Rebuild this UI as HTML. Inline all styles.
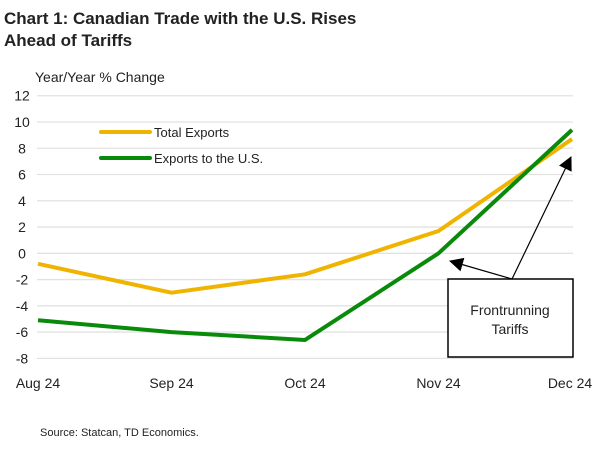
<!DOCTYPE html>
<html><head><meta charset="utf-8"><style>
body{margin:0;background:#fff;font-family:"Liberation Sans",sans-serif;}
</style></head><body>
<svg width="600" height="448" xmlns="http://www.w3.org/2000/svg">
<text x="4" y="24" font-size="17" font-weight="bold" fill="#222">Chart 1: Canadian Trade with the U.S. Rises</text>
<text x="4" y="46" font-size="17" font-weight="bold" fill="#222">Ahead of Tariffs</text>
<text x="35" y="82" font-size="14" fill="#222">Year/Year % Change</text>
<g id="grid"></g><g id="series"></g>
<g>
<line x1="101" y1="132" x2="150" y2="132" stroke="#f0b400" stroke-width="4" stroke-linecap="round"/>
<text x="154" y="137" font-size="13" fill="#222">Total Exports</text>
<line x1="101" y1="158" x2="150" y2="158" stroke="#0a8a0a" stroke-width="4" stroke-linecap="round"/>
<text x="154" y="163" font-size="13" fill="#222">Exports to the U.S.</text>
</g>
<defs><marker id="ah" markerWidth="14" markerHeight="14" refX="13" refY="7" orient="auto" markerUnits="userSpaceOnUse"><path d="M0,0 L14,7 L0,14 z" fill="#000"/></marker></defs>
<line x1="512" y1="279" x2="450" y2="261" stroke="#000" stroke-width="1.2" marker-end="url(#ah)"/>
<line x1="512" y1="279" x2="571" y2="157" stroke="#000" stroke-width="1.2" marker-end="url(#ah)"/>
<rect x="448" y="279" width="125" height="78" fill="#fff" stroke="#000" stroke-width="1.5"/>
<text x="510" y="315" font-size="14" text-anchor="middle" fill="#222">Frontrunning</text>
<text x="510" y="334" font-size="14" text-anchor="middle" fill="#222">Tariffs</text>
<text x="40" y="436" font-size="11" fill="#222">Source: Statcan, TD Economics.</text>
</svg>
<script>
const categories=["Aug 24","Sep 24","Oct 24","Nov 24","Dec 24"];
const totalExports=[-0.8,-3.0,-1.6,1.7,8.7];
const exportsUS=[-5.1,-6.0,-6.6,0.0,9.4];
const yTicks=[12,10,8,6,4,2,0,-2,-4,-6,-8];
const NS="http://www.w3.org/2000/svg";
const x=i=>38+i*133.5;
const y=v=>253.3-v*13.13;
const grid=document.getElementById('grid'),ser=document.getElementById('series');
function mk(t,a,p){const e=document.createElementNS(NS,t);for(const k in a)e.setAttribute(k,a[k]);p.appendChild(e);return e;}
yTicks.forEach(t=>{
 const l=mk('line',{x1:37,x2:573,y1:y(t),y2:y(t),stroke:'#e2e2e2','stroke-width':1.3},grid);
 
 
 const tx=mk('text',{x:22,y:y(t)+5,'font-size':14,'text-anchor':'middle',fill:'#222'},grid);
 tx.textContent=t;
 
 
});
categories.forEach((c,i)=>{
 const tx=mk('text',{x:Math.min(Math.max(x(i),34),570),y:388,'font-size':14,'text-anchor':'middle',fill:'#222'},grid);
 tx.textContent=c;
 
 
});
function line(d,col,name){
 const p=mk('polyline',{points:d.map((v,i)=>x(i)+','+y(v)).join(' '),fill:'none',stroke:col,'stroke-width':4,'stroke-linejoin':'round'},ser);
 
 
}
line(totalExports,'#f0b400','total-exports-line');
line(exportsUS,'#0a8a0a','exports-us-line');
</script>
</body></html>
